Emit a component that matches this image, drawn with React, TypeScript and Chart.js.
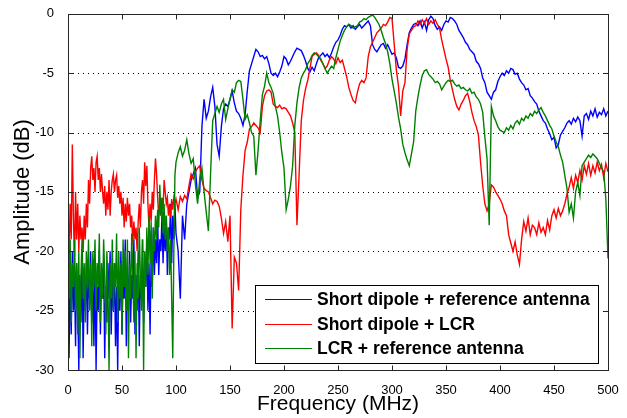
import React, { useEffect, useRef } from "react";
import { Chart, registerables } from "chart.js";

Chart.register(...registerables);

// Frequency grid (MHz): 1 MHz steps up to 100, then 2 MHz steps up to 500
const lowFreq: number[] = Array.from({ length: 101 }, (_, i) => i);
const highFreq: number[] = Array.from({ length: 200 }, (_, i) => 102 + i * 2);

const xTickValues = [0, 50, 100, 150, 200, 250, 300, 350, 400, 450, 500];
const yTickValues = [0, -5, -10, -15, -20, -25, -30];
const yGridValues = [-5, -10, -15, -20, -25];

const seriesNames = [
  "Short dipole + reference antenna",
  "Short dipole + LCR",
  "LCR + reference antenna",
];
const seriesColors = ["#0000ff", "#ff0000", "#008000"];

// Short dipole + reference antenna (dB)
const blueLow = [
  -22, -29, -21, -27, -20, -25, -22, -28, -21, -24,
  -30, -22, -26, -20, -29, -23, -25, -21, -27, -22,
  -24, -20, -26, -22, -28, -21, -30, -23, -25, -20,
  -27, -22, -24, -21, -29, -23, -26, -21, -24, -20,
  -27, -22, -25, -21, -28, -23, -30, -22, -25, -20,
  -27, -22, -24, -19, -28, -22, -25, -20, -26, -22,
  -24, -19, -27, -22, -25, -20, -28, -22, -24, -19,
  -26, -21, -23, -19, -25, -21, -27, -20, -23, -18,
  -22, -19, -21, -17, -22, -19, -20, -17, -21, -18,
  -20, -17, -22, -18, -19, -16, -21, -17, -19, -16,
  -18.5,
];
const blueHigh = [
  -20, -24, -17, -19, -16, -15, -14, -13.5, -13, -15.5,
  -15, -9.5, -7.2, -8.8, -8.2, -7.0, -6.2, -7.8, -11, -12,
  -9.5, -8, -7.6, -7.8, -7.2, -6.5, -7.5, -8.2, -8.4, -8.8,
  -9.4, -8.5, -6.5, -4.8, -4.2, -3.6, -3.0, -3.2, -3.6, -3.5,
  -3.8, -3.6, -4.2, -5.0, -5.2, -5.0, -5.3, -4.9, -4.4, -3.6,
  -3.8, -4.3, -4.0, -3.6, -3.2, -2.9, -3.0, -3.1, -3.5, -4.0,
  -4.6, -4.9, -4.5, -4.8, -4.2, -3.7, -3.5, -3.3, -3.6, -3.4,
  -3.7, -3.3, -2.8, -2.4, -2.2, -1.8, -1.3, -1.0, -1.1, -0.9,
  -1.2, -1.0, -1.3, -1.1, -0.9, -1.2, -1.0, -0.8, -0.6, -1.0,
  -2.6, -3.0, -3.2, -2.9, -2.6, -2.5, -2.9, -2.6, -3.0, -3.4,
  -3.3, -3.7, -4.5, -4.6, -4.4, -3.8, -2.6, -1.6, -1.2, -0.9,
  -0.8, -1.0, -0.6, -1.2, -0.7, -1.4, -0.5, -0.2, -0.4, -1.0,
  -1.3, -1.1, -1.4, -0.9, -0.6, -0.7, -0.3, -0.4, -0.6, -0.9,
  -1.4, -1.7, -2.0, -2.4, -2.6, -3.0, -3.2, -3.4, -4.0, -4.2,
  -4.6, -5.4, -5.8, -6.6, -6.9, -7.2, -6.6, -6.4, -5.7, -5.3,
  -5.0, -5.2, -4.8, -5.0, -4.6, -4.7, -5.1, -5.0, -5.5, -5.8,
  -6.0, -6.4, -6.3, -6.9, -7.1, -7.4, -7.6, -8.2, -8.6, -9.0,
  -9.2, -9.7, -10.1, -10.6, -10.4, -11.3, -11.0, -10.2, -9.9, -9.6,
  -9.2, -9.0, -9.3, -8.8, -9.1, -8.7, -9.0, -10.3, -8.6, -8.4,
  -8.9, -8.2, -8.6, -8.0, -8.7, -8.3, -8.5, -8.0, -8.6, -8.2,
];

// Short dipole + LCR (dB)
const redLow = [
  -18, -20, -16, -19, -11, -17, -21, -15, -19, -16,
  -20, -17, -19, -18, -20, -17, -19, -16, -18, -14,
  -16, -13, -12, -14, -13, -15, -12.5, -12, -14, -13,
  -15, -13.5, -15, -16, -14.5, -17, -15, -16.5, -14, -17,
  -15, -14, -13.5, -15, -14, -13.6, -15.5, -14.5, -16, -15,
  -17, -15.5, -18, -16, -17.5, -15.5, -17, -16, -18, -17,
  -19.5, -17.5, -19, -18, -20, -17.5, -16, -18, -15, -14,
  -16, -12.5, -14.5, -12.8, -16, -18, -16, -17.5, -15, -16.5,
  -14, -12.2, -13.5, -15.5, -17, -16, -17, -15.5, -16.5, -14,
  -15, -16, -15.5, -17, -16, -17.2, -15.6, -16.5, -15.5, -16,
  -15.6,
];
const redHigh = [
  -16.5, -15.4, -15.8, -15.3, -15.6, -14.5, -13.5, -13.9, -13.3, -13.0,
  -12.8, -14.0, -14.7, -14.9, -15.0, -15.5, -16.0, -15.7, -15.8, -16.2,
  -17.2, -18.5, -17.5, -19.2, -17.0, -26.5, -20.5, -21.0, -23.3, -16.5,
  -13.6, -11.5, -10.8, -9.7, -9.5, -9.2, -9.4, -9.6, -10.0, -7.8,
  -6.9, -6.5, -6.4, -6.6, -7.6, -7.8, -7.9, -7.7, -8.0, -7.9,
  -8.0, -8.3, -8.6, -9.2, -10.0, -17.8, -13.5, -9.0, -7.3, -6.3,
  -5.6, -4.6, -3.6, -3.4, -3.3, -3.5, -3.9, -4.2, -4.6, -4.4,
  -3.9, -3.6, -3.8, -4.2, -3.7, -4.1, -3.9, -4.6, -5.3, -6.2,
  -6.8, -7.3, -7.5, -6.6, -5.9, -5.6, -5.8, -5.4, -3.6, -2.8,
  -2.4, -2.0, -1.6, -1.4, -1.2, -0.9, -1.0, -0.7, -0.3, -0.4,
  -2.5, -4.7, -6.1, -8.6, -6.5, -5.8, -3.0, -1.7, -1.4, -1.1,
  -1.0, -0.6, -0.9, -0.5, -0.8, -0.4, -0.9, -0.6, -0.8, -0.5,
  -0.9, -1.2, -2.2, -3.0, -3.8, -4.5, -5.6, -6.4, -7.2, -7.8,
  -8.1, -7.6, -7.3, -6.9, -6.7, -7.4, -8.3, -9.0, -9.5, -10.2,
  -12.5, -14.5, -16.0, -16.6, -16.0, -14.4, -14.6, -15.0, -15.3, -15.6,
  -16.0, -16.6, -17.0, -18.6, -19.3, -20.0, -19.2, -20.3, -21.1, -19.0,
  -17.5, -18.3, -17.2, -18.6, -17.8, -18.0, -18.6, -17.6, -18.4, -18.0,
  -18.6, -17.4, -18.2, -17.0, -16.5, -17.2, -16.4, -17.0, -16.6, -16.0,
  -15.2, -14.6, -13.8, -14.7, -13.6, -14.2, -13.2, -14.0, -12.8, -13.5,
  -12.6, -13.6, -12.8, -13.4, -12.5, -13.2, -12.7, -13.8, -12.6, -13.3,
];

// LCR + reference antenna (dB)
const greenLow = [
  -15, -24, -19, -26, -21, -23, -19, -25, -21, -27,
  -20, -29, -22, -19, -24, -21, -26, -20, -23, -19,
  -25, -21, -28, -20, -23, -19, -25, -21, -23, -18.5,
  -26, -21, -24, -19, -22, -27, -20, -23, -30, -21,
  -24, -19, -25, -21, -23, -18.5, -26, -20, -24, -21,
  -27, -19, -23, -20, -25, -19, -29, -21, -24, -18.5,
  -22, -26, -20, -29, -21, -24, -18, -22, -25, -19,
  -30, -20, -23, -18, -22, -17, -21, -17.5, -24, -18,
  -20, -17, -19, -16.5, -18, -14.4, -17, -15.5, -18.5, -16,
  -19, -17, -20, -18, -22, -19, -24, -29, -20, -13.6,
  -12.5,
];
const greenHigh = [
  -11.7, -11.2, -12.0, -11.5, -10.6, -11.8, -12.6, -12.2, -14.4, -16.0,
  -13.9, -13.0, -15.0, -16.7, -18.3, -13.5, -9.0, -8.4, -7.8, -8.3,
  -7.6, -7.2, -8.9, -8.0, -7.2, -6.4, -6.6, -5.8, -5.6, -5.7,
  -7.2, -8.9, -8.5, -9.2, -10.0, -10.3, -13.6, -11.5, -9.0, -6.8,
  -6.1, -5.0, -5.8, -6.2, -6.7, -7.8, -8.6, -10.0, -11.7, -13.0,
  -16.5, -15.6, -14.5, -12.8, -9.4, -7.5, -6.2, -5.4, -5.0, -4.7,
  -4.2, -3.9, -3.5, -3.3, -3.4, -3.6, -3.8, -4.2, -4.6, -5.0,
  -4.7, -4.4, -4.6, -3.7, -3.0, -2.3, -1.8, -1.4, -1.1, -0.9,
  -1.0, -1.2, -1.1, -1.0, -0.7, -0.6, -0.4, -0.5, -0.3, -0.2,
  -0.1, -0.3, -0.6, -0.9, -1.4, -2.0, -2.5, -3.2, -4.2, -5.5,
  -6.5, -7.5, -8.7, -9.7, -11.0, -11.7, -12.3, -12.8, -11.8, -10.8,
  -8.2, -7.0, -6.0, -5.2, -4.8, -4.7, -5.1, -5.3, -5.5, -5.8,
  -5.7, -5.9, -6.4, -6.1, -5.8, -5.6, -5.7, -5.6, -5.9, -6.1,
  -6.0, -6.3, -6.2, -6.4, -6.5, -6.3, -6.7, -6.6, -7.0, -7.2,
  -7.6, -8.3, -10.4, -12.2, -17.8, -7.8, -8.6, -9.0, -9.5, -9.8,
  -9.9, -10.0, -9.6, -9.8, -9.4, -9.7, -9.2, -9.0, -9.3, -8.8,
  -9.0, -8.6, -8.8, -8.4, -8.6, -8.2, -8.4, -8.1, -7.9, -8.3,
  -8.6, -9.0, -9.4, -9.7, -10.3, -10.8, -11.2, -11.9, -12.5, -13.6,
  -14.7, -16.7, -16.0, -17.2, -15.0, -14.2, -15.3, -12.8, -12.5, -12.2,
  -11.9, -12.1, -11.8, -12.0, -12.2, -12.6, -13.0, -13.3, -15.6, -20.6,
];

const FONT = "'Liberation Sans', Arial, Helvetica, sans-serif";

function toPoints(freq: number[], values: number[]) {
  return freq.map((f, i) => ({ x: f, y: values[i] }));
}

const framePlugin = {
  id: "matlabFrame",
  beforeDatasetsDraw(chart: any) {
    const { ctx, chartArea } = chart;
    const y = chart.scales.y;
    ctx.save();
    ctx.strokeStyle = "#000";
    ctx.lineWidth = 1;
    ctx.setLineDash([1, 4]);
    yGridValues.forEach((v) => {
      const py = Math.round(y.getPixelForValue(v)) + 0.5;
      ctx.beginPath();
      ctx.moveTo(chartArea.left, py);
      ctx.lineTo(chartArea.right, py);
      ctx.stroke();
    });
    ctx.restore();
  },
  afterDatasetsDraw(chart: any) {
    const { ctx, chartArea } = chart;
    const x = chart.scales.x;
    const y = chart.scales.y;
    const L = Math.round(chartArea.left) + 0.5;
    const R = Math.round(chartArea.right) + 0.5;
    const T = Math.round(chartArea.top) + 0.5;
    const B = Math.round(chartArea.bottom) + 0.5;
    ctx.save();
    ctx.setLineDash([]);
    ctx.strokeStyle = "#262626";
    ctx.lineWidth = 1;
    ctx.strokeRect(L, T, R - L, B - T);
    const tl = 5;
    ctx.beginPath();
    xTickValues.forEach((v) => {
      const px = Math.round(x.getPixelForValue(v)) + 0.5;
      ctx.moveTo(px, B);
      ctx.lineTo(px, B - tl);
      ctx.moveTo(px, T);
      ctx.lineTo(px, T + tl);
    });
    yTickValues.forEach((v) => {
      const py = Math.round(y.getPixelForValue(v)) + 0.5;
      ctx.moveTo(L, py);
      ctx.lineTo(L + tl, py);
      ctx.moveTo(R, py);
      ctx.lineTo(R - tl, py);
    });
    ctx.stroke();

    // Legend box
    const bx = 255.5, by = 285.5, bw = 343, bh = 78;
    ctx.fillStyle = "#fff";
    ctx.fillRect(bx, by, bw, bh);
    ctx.strokeStyle = "#000";
    ctx.strokeRect(bx, by, bw, bh);
    const rows = [299.5, 324.5, 348.5];
    ctx.font = `bold 17.5px ${FONT}`;
    ctx.textBaseline = "middle";
    ctx.textAlign = "left";
    seriesNames.forEach((name, i) => {
      ctx.strokeStyle = seriesColors[i];
      ctx.beginPath();
      ctx.moveTo(265, rows[i]);
      ctx.lineTo(312, rows[i]);
      ctx.stroke();
      ctx.fillStyle = "#000";
      ctx.fillText(name, 317, rows[i] + 1);
    });
    ctx.restore();
  },
};

export default function App() {
  const ref = useRef<HTMLCanvasElement>(null);

  useEffect(() => {
    document.body.style.margin = "0";
    Chart.defaults.font.family = FONT;
    const freq = [...lowFreq, ...highFreq];
    const blue = [...blueLow, ...blueHigh];
    const red = [...redLow, ...redHigh];
    const green = [...greenLow, ...greenHigh];
    const values = [blue, red, green];

    const chart = new Chart(ref.current!, {
      type: "line",
      data: {
        datasets: values.map((v, i) => ({
          label: seriesNames[i],
          data: toPoints(freq, v),
          borderColor: seriesColors[i],
          backgroundColor: seriesColors[i],
          borderWidth: 1.4,
          pointRadius: 0,
          tension: 0,
          order: 3 - i,
        })),
      },
      options: {
        responsive: false,
        devicePixelRatio: 1,
        animation: false,
        events: [],
        layout: { padding: { left: 0, right: 19, top: 10, bottom: 0 } },
        plugins: {
          legend: { display: false },
          tooltip: { enabled: false },
          title: { display: false },
        },
        scales: {
          x: {
            type: "linear",
            min: 0,
            max: 500,
            grid: { display: false },
            border: { display: false },
            afterBuildTicks: (s: any) => {
              s.ticks = xTickValues.map((v) => ({ value: v }));
            },
            afterFit: (s: any) => {
              s.height = 48;
            },
            ticks: {
              color: "#000",
              font: { size: 13 },
              padding: 5,
              maxRotation: 0,
              autoSkip: false,
            },
            title: {
              display: true,
              text: "Frequency (MHz)",
              color: "#000",
              font: { size: 21 },
              padding: { top: 0, bottom: 1 },
            },
          },
          y: {
            type: "linear",
            min: -30,
            max: 0,
            grid: { display: false },
            border: { display: false },
            afterBuildTicks: (s: any) => {
              s.ticks = yTickValues.map((v) => ({ value: v }));
            },
            afterFit: (s: any) => {
              s.width = 68;
            },
            ticks: {
              color: "#000",
              font: { size: 13 },
              padding: 6,
              autoSkip: false,
            },
            title: {
              display: true,
              text: "Amplitude (dB)",
              color: "#000",
              font: { size: 22 },
              padding: { top: 10, bottom: 0 },
            },
          },
        },
      },
      plugins: [framePlugin],
    });
    return () => chart.destroy();
  }, []);

  return (
    <div style={{ width: 627, height: 418, position: "relative", background: "#fff" }}>
      <canvas ref={ref} width={627} height={418} style={{ display: "block" }} />
    </div>
  );
}
